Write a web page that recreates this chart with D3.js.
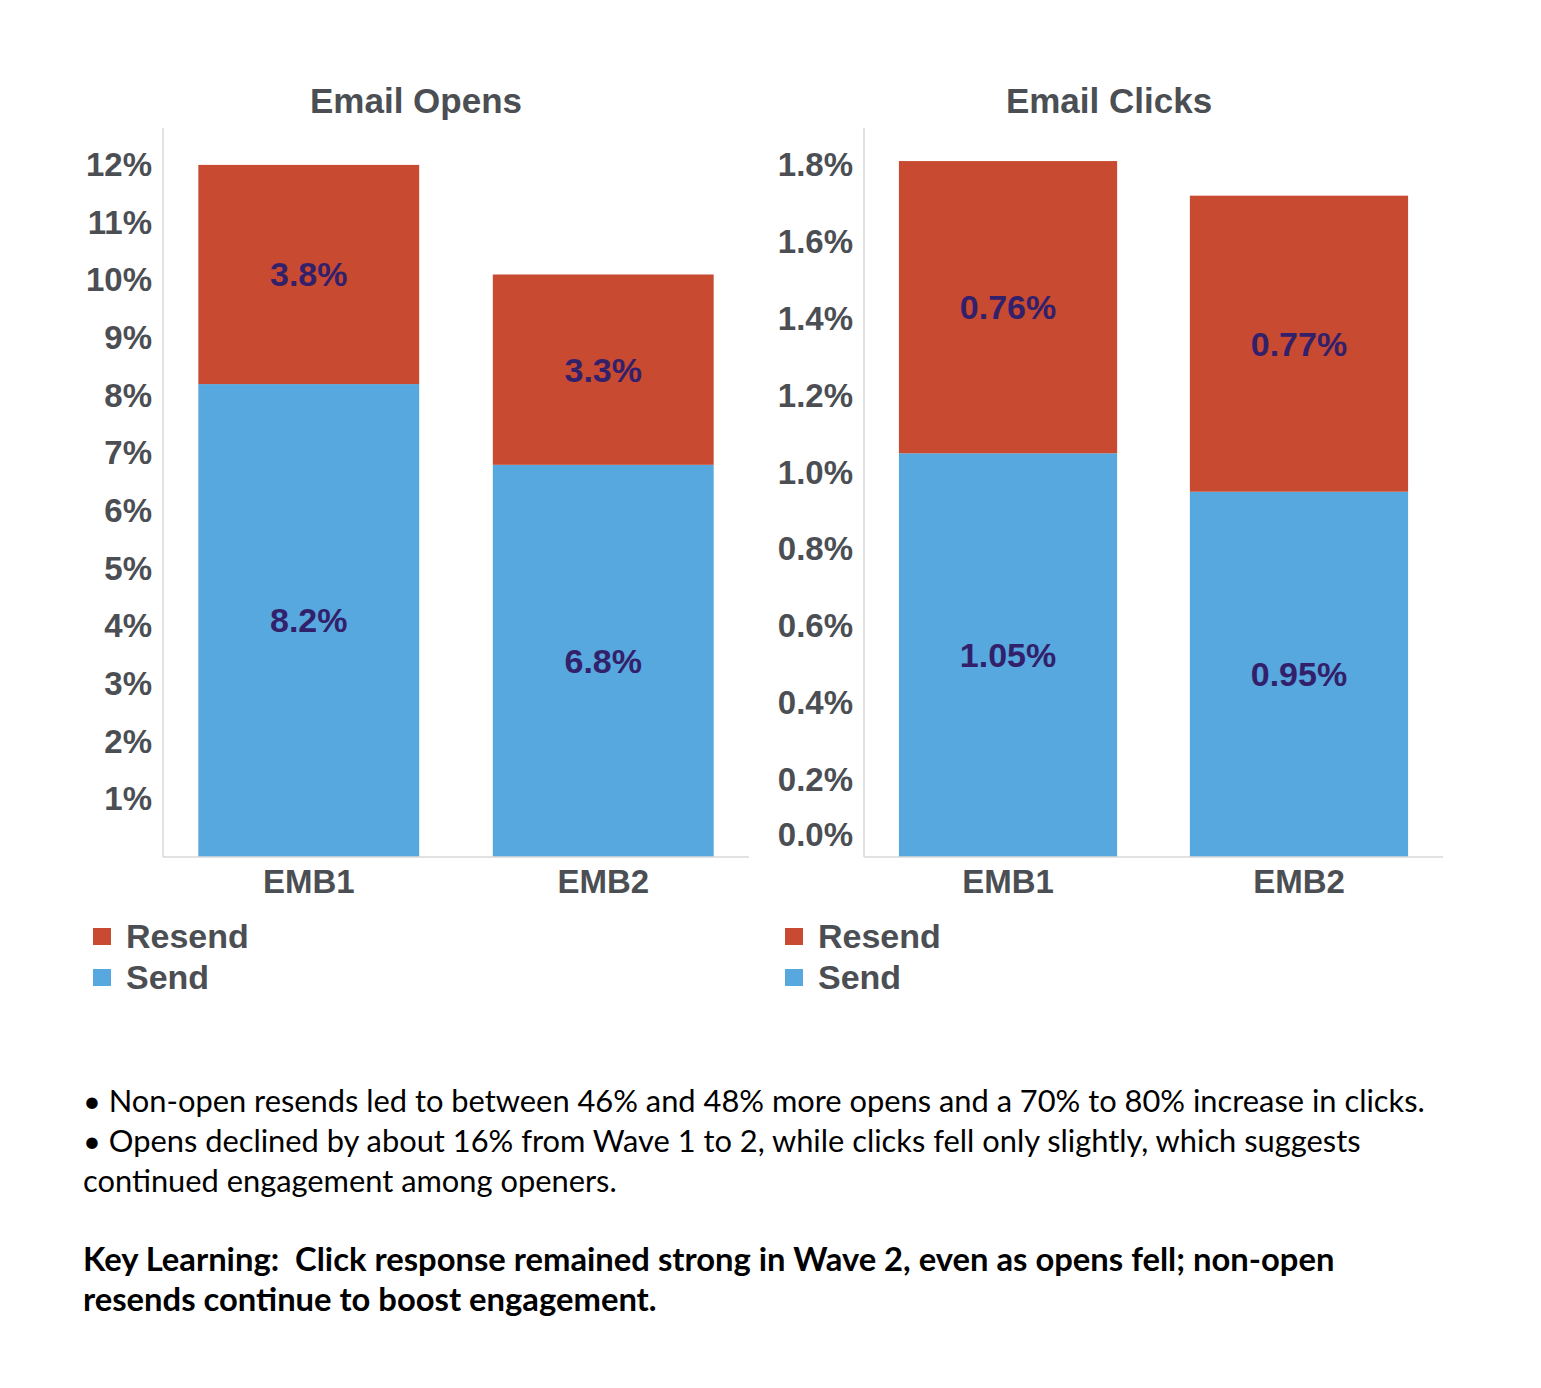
<!DOCTYPE html>
<html>
<head>
<meta charset="utf-8">
<script src="https://cdn.jsdelivr.net/npm/d3@7"></script>
<style>
  body { margin: 0; background: #fff; }
</style>
</head>
<body>
<div id="chart"></div>
<script>
// data
var categories = ["EMB1", "EMB2"]
var seriesNames = ["Resend", "Send"]
var opensSend = [8.2, 6.8]
var opensResend = [3.8, 3.3]
var clicksSend = [1.05, 0.95]
var clicksResend = [0.76, 0.77]
var opensTicks = [1, 2, 3, 4, 5, 6, 7, 8, 9, 10, 11, 12]
var clicksTicks = [0, 0.2, 0.4, 0.6, 0.8, 1.0, 1.2, 1.4, 1.6, 1.8]
var notes = [
  "\u2022 Non-open resends led to between 46% and 48% more opens and a 70% to 80% increase in clicks.",
  "\u2022 Opens declined by about 16% from Wave 1 to 2, while clicks fell only slightly, which suggests",
  "continued engagement among openers."
]
var keyLearning = [
  "Key Learning:  Click response remained strong in Wave 2, even as opens fell; non-open",
  "resends continue to boost engagement."
]

var svgWidth = 1541
var svgHeight = 1388
var red = "#c84a31"
var blue = "#57a8de"
var labelColor = "#33206b"
var axisColor = "#4b4e53"
var gridColor = "#d9d9d9"
var chartFont = "'Liberation Sans', Arial, sans-serif"

var svg = d3.select("#chart")
  .append("svg")
  .attr("width", svgWidth)
  .attr("height", svgHeight)

function drawPanel(cfg) {
  var g = svg.append("g")

  var xScale = d3.scaleBand()
    .domain(categories)
    .range([cfg.left, cfg.right])
    .paddingInner(0.25)
    .paddingOuter(0.12)

  var yScale = d3.scaleLinear()
    .domain([0, cfg.yMax])
    .range([cfg.bottom, cfg.top])

  var rows = categories.map(function(c, i) {
    return { cat: c, send: cfg.send[i], resend: cfg.resend[i] }
  })

  // send segment
  g.selectAll(".send")
    .data(rows)
    .enter()
    .append("rect")
    .attr("x", function(d) { return xScale(d.cat) })
    .attr("width", xScale.bandwidth())
    .attr("y", function(d) { return yScale(d.send) })
    .attr("height", function(d) { return yScale(0) - yScale(d.send) })
    .attr("fill", blue)

  // resend segment on top
  g.selectAll(".resend")
    .data(rows)
    .enter()
    .append("rect")
    .attr("x", function(d) { return xScale(d.cat) })
    .attr("width", xScale.bandwidth())
    .attr("y", function(d) { return yScale(d.send + d.resend) })
    .attr("height", function(d) { return yScale(d.send) - yScale(d.send + d.resend) })
    .attr("fill", red)

  // value labels
  g.selectAll(".lblSend")
    .data(rows)
    .enter()
    .append("text")
    .attr("x", function(d) { return xScale(d.cat) + xScale.bandwidth() / 2 })
    .attr("y", function(d) { return (yScale(0) + yScale(d.send)) / 2 })
    .attr("dy", "0.35em")
    .attr("text-anchor", "middle")
    .attr("font-family", chartFont)
    .attr("font-weight", "bold")
    .attr("font-size", "34px")
    .attr("fill", labelColor)
    .text(function(d) { return cfg.fmtLabel(d.send) })

  g.selectAll(".lblResend")
    .data(rows)
    .enter()
    .append("text")
    .attr("x", function(d) { return xScale(d.cat) + xScale.bandwidth() / 2 })
    .attr("y", function(d) { return (yScale(d.send) + yScale(d.send + d.resend)) / 2 })
    .attr("dy", "0.35em")
    .attr("text-anchor", "middle")
    .attr("font-family", chartFont)
    .attr("font-weight", "bold")
    .attr("font-size", "34px")
    .attr("fill", labelColor)
    .text(function(d) { return cfg.fmtLabel(d.resend) })

  // axis lines
  g.append("line")
    .attr("x1", cfg.left).attr("x2", cfg.left)
    .attr("y1", cfg.top).attr("y2", cfg.bottom)
    .attr("stroke", gridColor).attr("stroke-width", 1.5)
  g.append("line")
    .attr("x1", cfg.left).attr("x2", cfg.right)
    .attr("y1", cfg.bottom).attr("y2", cfg.bottom)
    .attr("stroke", gridColor).attr("stroke-width", 1.5)

  // y axis labels
  var yAxis = d3.axisLeft(yScale)
    .tickValues(cfg.ticks)
    .tickSize(0)
    .tickPadding(11)
    .tickFormat(cfg.fmtTick)
  var ya = g.append("g")
    .attr("transform", "translate(" + cfg.left + ",0)")
    .call(yAxis)
  ya.select(".domain").remove()
  ya.selectAll("text")
    .attr("font-family", chartFont)
    .attr("font-weight", "bold")
    .attr("font-size", "33px")
    .attr("fill", axisColor)
  // zero label sits a bit above the baseline in the original
  ya.selectAll(".tick").filter(function(d) { return d === 0 })
    .select("text").attr("y", -22)

  // x axis labels
  var xAxis = d3.axisBottom(xScale).tickSize(0).tickPadding(13)
  var xa = g.append("g")
    .attr("transform", "translate(0," + cfg.bottom + ")")
    .call(xAxis)
  xa.select(".domain").remove()
  xa.selectAll("text")
    .attr("font-family", chartFont)
    .attr("font-weight", "bold")
    .attr("font-size", "33px")
    .attr("fill", axisColor)

  // title
  g.append("text")
    .attr("x", cfg.titleX)
    .attr("y", 113)
    .attr("text-anchor", "middle")
    .attr("font-family", chartFont)
    .attr("font-weight", "bold")
    .attr("font-size", "35px")
    .attr("fill", axisColor)
    .text(cfg.title)

  // legend
  var legend = g.selectAll(".legend")
    .data(seriesNames)
    .enter()
    .append("g")
    .attr("transform", function(d, i) { return "translate(" + cfg.legendX + "," + (928 + i * 41) + ")" })
  legend.append("rect")
    .attr("width", 18)
    .attr("height", 17)
    .attr("fill", function(d) { return d === "Resend" ? red : blue })
  legend.append("text")
    .attr("x", 33)
    .attr("y", 20)
    .attr("font-family", chartFont)
    .attr("font-weight", "bold")
    .attr("font-size", "34px")
    .attr("fill", axisColor)
    .text(function(d) { return d })
}

drawPanel({
  title: "Email Opens",
  titleX: 416,
  left: 163, right: 749, top: 128, bottom: 857,
  yMax: 12.64,
  send: opensSend, resend: opensResend,
  ticks: opensTicks,
  fmtTick: function(d) { return d + "%" },
  fmtLabel: function(d) { return d.toFixed(1) + "%" },
  legendX: 93
})

drawPanel({
  title: "Email Clicks",
  titleX: 1109,
  left: 864, right: 1443, top: 128, bottom: 857,
  yMax: 1.896,
  send: clicksSend, resend: clicksResend,
  ticks: clicksTicks,
  fmtTick: function(d) { return d.toFixed(1) + "%" },
  fmtLabel: function(d) { return d.toFixed(2) + "%" },
  legendX: 785
})

// notes under the charts, font size fitted to the first line's width
var noteFont = "Lato, 'Open Sans', sans-serif"
function fitLines(lines, y0, weight, targetWidth) {
  var txt = svg.append("g").selectAll("text")
    .data(lines)
    .enter()
    .append("text")
    .attr("x", 83)
    .attr("y", function(d, i) { return y0 + i * 40 })
    .attr("font-family", noteFont)
    .attr("font-weight", weight)
    .attr("font-size", "30px")
    .attr("fill", "#000")
    .style("white-space", "pre")
    .text(function(d) { return d })
  var w = txt.nodes()[0].getComputedTextLength()
  txt.attr("font-size", (30 * targetWidth / w) + "px")
}
fitLines(notes, 1112, "normal", 1342)
fitLines(keyLearning, 1271, "bold", 1252)
</script>
</body>
</html>
